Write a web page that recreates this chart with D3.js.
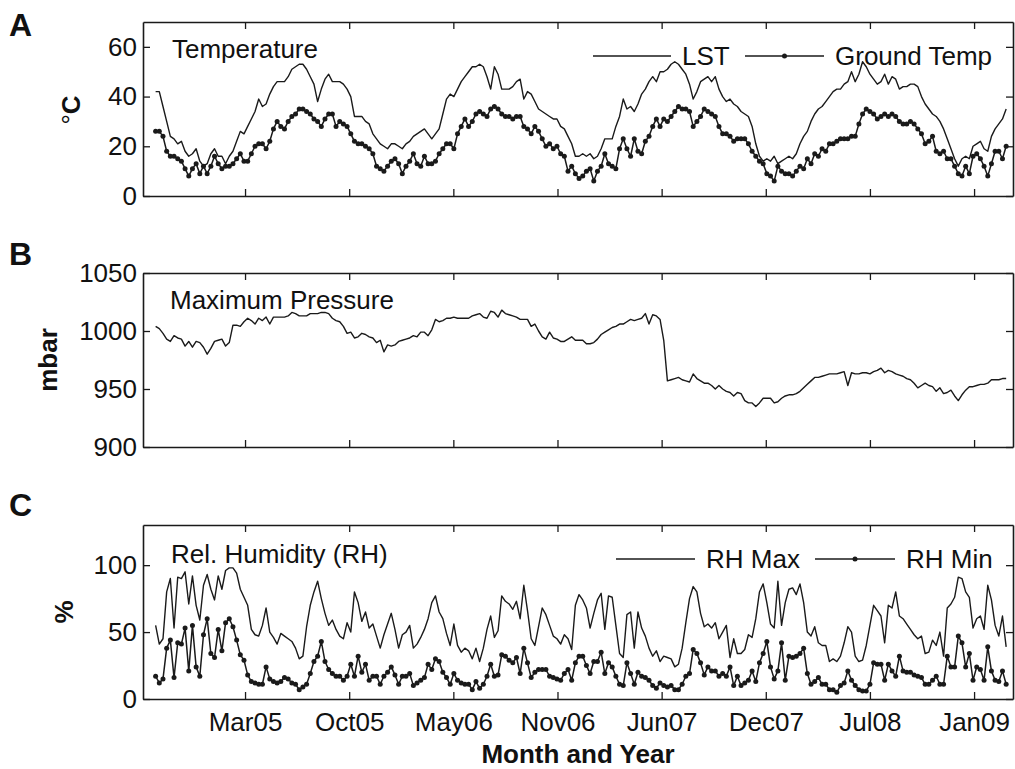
<!DOCTYPE html>
<html>
<head>
<meta charset="utf-8">
<script src="https://cdn.jsdelivr.net/npm/d3@7"></script>
<style>
  body { margin: 0; background: #fff; }
  svg { display: block; }
</style>
</head>
<body>
<svg id="chart" width="1015" height="769"></svg>
<script>
// weekly samples, first one on startDate
const startDate = '2004-10-12';
const stepDays = 7;
const xDomain = ['2004-09-18', '2009-03-30'];
const xTickDates = ['2005-03-31', '2005-10-15', '2006-05-01', '2006-11-15', '2007-06-01', '2007-12-16', '2008-07-01', '2009-01-15'];

const tempTicks = [0, 20, 40, 60];
const pressureTicks = [900, 950, 1000, 1050];
const rhTicks = [0, 50, 100];

// Panel A: land surface temperature and ground temperature (°C)
const lst = [
  42,42,36,30,24,23,21,22,18,16, 17,19,14,12,13,17,19,16,16,13,
  16,18,22,26,25,28,31,34,39,36, 37,41,44,46,46,46,48,51,52,53,
  53,51,48,45,38,43,47,49,46,46, 46,45,43,40,32,32,32,30,29,25,
  23,21,20,19,21,21,20,19,21,22, 24,25,26,27,25,23,25,27,33,39,
  41,40,43,46,48,50,52,52,53,52, 48,43,52,49,43,43,43,44,46,47,
  39,42,41,38,35,34,33,32,31,31, 28,27,24,21,16,16,17,16,17,15,
  16,19,23,23,23,28,32,39,35,36, 34,37,41,43,46,48,46,50,50,51,
  53,54,53,51,49,45,39,42,46,47, 48,46,48,43,40,38,39,37,36,34,
  33,32,28,21,16,14,15,14,16,13, 14,15,16,15,17,21,24,26,30,33,
  35,36,38,40,42,43,43,45,46,50, 46,49,54,52,49,47,45,46,49,45,
  48,47,43,44,44,45,45,44,40,37, 35,33,32,30,27,23,19,15,12,15,
  16,15,20,21,22,19,18,24,27,29, 31,35
];
const groundTemp = [
  26,26,24,18,16,16,15,14,11,8, 11,13,9,12,9,12,16,13,11,12,
  12,13,15,17,14,14,17,20,21,21, 19,22,27,30,28,27,30,32,33,35,
  35,34,33,31,30,28,31,33,33,28, 30,29,28,25,22,21,21,20,19,17,
  12,11,10,12,14,15,13,9,12,14, 17,13,12,16,13,13,14,17,19,21,
  21,19,25,28,31,28,30,33,34,33, 32,35,36,35,33,32,32,31,32,32,
  28,27,25,28,26,23,20,21,19,20, 17,16,10,12,9,7,8,10,11,6,
  10,12,17,13,12,11,19,23,19,16, 23,18,17,22,24,28,31,28,31,30,
  32,34,36,35,35,34,28,30,32,35, 34,33,32,28,25,25,24,22,23,23,
  23,21,18,16,14,13,9,8,6,12, 10,9,9,8,10,12,11,15,13,17,
  16,19,18,21,21,22,23,23,23,24, 24,29,33,35,34,33,31,32,33,32,
  33,32,30,29,29,30,29,27,25,21, 22,24,18,17,18,15,15,12,9,8,
  12,9,16,17,15,12,8,13,18,18, 15,20
];

// Panel B: maximum pressure (mbar)
const pressure = [
  1004,1002,998,993,991,996,994,993,987,991, 986,991,990,986,980,985,991,992,993,987,
  990,1005,1005,1004,1008,1011,1009,1006,1011,1009, 1012,1006,1012,1012,1012,1012,1013,1016,1015,1013,
  1013,1013,1015,1015,1015,1016,1016,1015,1011,1009, 1008,1004,998,999,994,995,998,997,995,994,
  990,992,982,988,987,988,991,992,993,994, 996,995,999,999,996,1001,1010,1008,1009,1011,
  1011,1012,1011,1011,1011,1011,1013,1014,1015,1012, 1011,1017,1016,1012,1018,1015,1014,1013,1012,1010,
  1010,1010,1004,1006,1000,995,993,999,994,993, 991,991,993,995,992,992,992,989,989,990,
  993,997,999,1001,1003,1004,1006,1006,1008,1010, 1009,1010,1011,1015,1006,1014,1013,1010,992,957,
  958,959,960,958,957,956,963,959,957,955, 955,953,950,953,950,948,947,944,947,946,
  940,938,938,935,938,942,942,942,938,939, 942,944,945,945,946,948,951,954,957,960,
  960,961,962,963,963,963,964,965,953,964, 963,963,964,964,963,965,966,968,964,966,
  965,963,962,961,959,958,955,951,953,955, 953,952,948,951,946,947,949,944,940,945,
  949,952,952,953,954,954,955,958,958,958, 959,959
];

// Panel C: relative humidity (%)
const rhMax = [
  55,41,45,80,90,53,91,90,95,71, 92,70,59,85,93,82,74,92,82,96,
  98,98,94,82,76,70,52,48,47,55, 68,50,46,41,49,47,45,43,38,30,
  32,54,70,80,88,75,64,55,59,52, 47,45,57,50,80,72,58,65,53,56,
  47,38,48,56,64,52,38,48,50,55, 38,41,46,52,60,72,77,65,60,49,
  40,56,40,35,38,36,30,38,28,38, 52,62,46,51,77,73,71,67,73,60,
  85,66,45,40,54,68,63,55,47,45, 41,48,45,37,70,78,74,68,53,64,
  74,79,52,77,76,55,34,31,63,65, 38,65,53,47,38,32,36,28,32,31,
  30,24,26,38,57,75,84,80,64,54, 56,53,57,45,50,55,31,45,34,34,
  37,48,46,60,80,86,72,56,53,88, 55,72,82,83,78,86,72,50,47,54,
  42,40,40,28,30,28,32,42,54,50, 32,28,29,40,55,70,66,62,42,70,
  68,80,62,60,56,52,48,45,47,34, 35,44,40,50,32,68,71,76,91,90,
  80,76,53,60,62,52,85,74,55,47, 62,39
];
const rhMin = [
  17,12,15,38,44,16,42,41,53,21, 55,24,17,48,60,34,31,52,36,57,
  60,54,44,33,29,18,13,12,11,11, 24,15,13,12,13,16,15,12,11,7,
  9,11,19,28,32,43,28,22,19,17, 17,14,17,26,17,32,20,26,14,17,
  17,11,17,20,24,18,11,17,17,19, 10,12,14,16,26,22,30,28,20,16,
  11,19,14,12,11,11,7,13,8,11, 17,26,17,18,33,32,29,27,31,19,
  38,27,16,20,22,22,22,17,16,15, 14,19,22,14,27,32,32,25,19,28,
  28,35,19,27,24,17,11,10,27,19, 11,20,17,16,14,10,8,12,10,9,
  10,7,7,11,17,19,37,34,27,18, 24,21,21,17,19,17,24,10,17,10,
  12,14,21,13,27,34,43,24,15,21, 42,14,32,31,32,34,38,19,11,13,
  16,11,11,7,7,5,10,12,21,14, 10,7,6,6,11,27,26,26,14,26,
  21,17,32,21,20,20,18,17,16,11, 11,14,17,11,11,32,24,24,47,42,
  24,34,14,24,22,14,39,21,14,13, 21,11
];

const fontFamily = "'Liberation Sans', Arial, Helvetica, sans-serif";
const ink = '#1a1a1a';
const svg = d3.select('#chart');

const parseDate = d3.timeParse('%Y-%m-%d');
const t0 = parseDate(startDate);
const dates = lst.map((d, i) => d3.timeDay.offset(t0, i * stepDays));
const xTicks = xTickDates.map(parseDate);
const fmtMonth = d3.timeFormat('%b%y');

const plotLeft = 143, plotRight = 1013;
const x = d3.scaleTime()
  .domain(xDomain.map(parseDate))
  .range([plotLeft, plotRight]);

const styleAxis = (g) => {
  g.attr('font-family', fontFamily).attr('font-size', 26);
  g.select('.domain').attr('stroke', ink).attr('stroke-width', 1.6);
  g.selectAll('.tick line').attr('stroke', ink).attr('stroke-width', 1.3);
  g.selectAll('.tick text').attr('fill', '#111');
};

const drawPanel = ({ top, bottom, domain, yTicks, showDates }) => {
  const y = d3.scaleLinear().domain(domain).range([bottom, top]);

  svg.append('g')
    .attr('transform', `translate(0,${bottom})`)
    .call(d3.axisBottom(x).tickValues(xTicks).tickSizeInner(-7).tickSizeOuter(0)
      .tickPadding(14).tickFormat(showDates ? fmtMonth : ''))
    .call(styleAxis);

  svg.append('g')
    .attr('transform', `translate(0,${top})`)
    .call(d3.axisTop(x).tickValues(xTicks).tickSizeInner(-7).tickSizeOuter(0).tickFormat(''))
    .call(styleAxis);

  svg.append('g')
    .attr('transform', `translate(${plotLeft},0)`)
    .call(d3.axisLeft(y).tickValues(yTicks).tickSizeInner(-7).tickSizeOuter(0)
      .tickPadding(6).tickFormat(d3.format('d')))
    .call(styleAxis);

  svg.append('g')
    .attr('transform', `translate(${plotRight},0)`)
    .call(d3.axisRight(y).tickValues(yTicks).tickSizeInner(-7).tickSizeOuter(0).tickFormat(''))
    .call(styleAxis);

  return y;
};

const drawSeries = (y, values, withDots) => {
  const line = d3.line()
    .x((d, i) => x(dates[i]))
    .y(d => y(d));

  svg.append('path')
    .datum(values)
    .attr('d', line)
    .attr('fill', 'none')
    .attr('stroke', ink)
    .attr('stroke-width', withDots ? 1.5 : 1.4)
    .attr('stroke-linejoin', 'round');

  if (withDots) {
    svg.append('g')
      .selectAll('circle')
      .data(values)
      .join('circle')
      .attr('cx', (d, i) => x(dates[i]))
      .attr('cy', d => y(d))
      .attr('r', 2.5)
      .attr('fill', ink);
  }
};

const addText = (txt, px, py, opts = {}) => {
  return svg.append('text')
    .attr('x', px)
    .attr('y', py)
    .attr('font-family', fontFamily)
    .attr('font-size', opts.size || 26)
    .attr('font-weight', opts.bold ? 'bold' : 'normal')
    .attr('text-anchor', opts.anchor || 'start')
    .attr('fill', '#111')
    .text(txt);
};

const addYLabel = (txt, px, py) => {
  return svg.append('text')
    .attr('transform', `translate(${px},${py}) rotate(-90)`)
    .attr('font-family', fontFamily)
    .attr('font-size', 26)
    .attr('font-weight', 'bold')
    .attr('text-anchor', 'middle')
    .attr('fill', '#111')
    .text(txt);
};

// legend: one short line per entry, with a dot in the middle when the series has markers
const addLegend = (items, ly) => {
  items.forEach(it => {
    svg.append('line')
      .attr('x1', it.x1).attr('x2', it.x2)
      .attr('y1', ly).attr('y2', ly)
      .attr('stroke', ink).attr('stroke-width', 1.4);
    if (it.dot) {
      svg.append('circle')
        .attr('cx', (it.x1 + it.x2) / 2).attr('cy', ly)
        .attr('r', 2.5).attr('fill', ink);
    }
    addText(it.label, it.x2 + 11, ly + 9);
  });
};

// ---- Panel A
const yA = drawPanel({ top: 22, bottom: 196, domain: [0, 70], yTicks: tempTicks, showDates: false });
drawSeries(yA, lst, false);
drawSeries(yA, groundTemp, true);
addText('A', 9, 36, { bold: true, size: 32 });
addText('Temperature', 172, 58);
const degLabel = svg.append('text')
  .attr('transform', 'translate(80,110) rotate(-90)')
  .attr('font-family', fontFamily)
  .attr('font-size', 26)
  .attr('text-anchor', 'middle')
  .attr('fill', '#111');
degLabel.append('tspan').attr('font-weight', 'normal').text('°');
degLabel.append('tspan').attr('font-weight', 'bold').text('C');
addLegend([
  { label: 'LST', x1: 593, x2: 671, dot: false },
  { label: 'Ground Temp', x1: 745, x2: 824, dot: true }
], 56);

// ---- Panel B
const yB = drawPanel({ top: 273, bottom: 447, domain: [900, 1050], yTicks: pressureTicks, showDates: false });
drawSeries(yB, pressure, false);
addText('B', 9, 265, { bold: true, size: 32 });
addText('Maximum Pressure', 170, 309);
addYLabel('mbar', 57, 360);

// ---- Panel C
const yC = drawPanel({ top: 525, bottom: 699, domain: [0, 130], yTicks: rhTicks, showDates: true });
drawSeries(yC, rhMax, false);
drawSeries(yC, rhMin, true);
addText('C', 9, 516, { bold: true, size: 32 });
addText('Rel. Humidity (RH)', 171, 563);
addYLabel('%', 73, 612);
addLegend([
  { label: 'RH Max', x1: 616, x2: 695, dot: false },
  { label: 'RH Min', x1: 815, x2: 895, dot: true }
], 559);

addText('Month and Year', (plotLeft + plotRight) / 2, 763, { bold: true, anchor: 'middle' });
</script>
</body>
</html>
